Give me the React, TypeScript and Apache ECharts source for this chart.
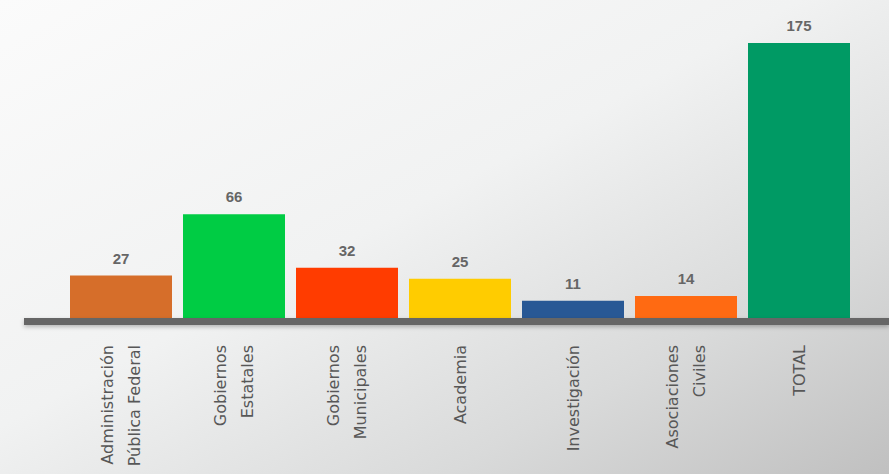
import React, { useEffect, useRef } from "react";
import * as echarts from "echarts";

const categories = [
  "Administración\nPública Federal",
  "Gobiernos\nEstatales",
  "Gobiernos\nMunicipales",
  "Academia",
  "Investigación",
  "Asociaciones\nCiviles",
  "TOTAL",
];
const values = [27, 66, 32, 25, 11, 14, 175];
const barColors = ["#d66e2a", "#00cc44", "#ff3c00", "#ffcc00", "#285895", "#ff6a12", "#009a64"];

export default function App() {
  const ref = useRef<HTMLDivElement>(null);
  useEffect(() => {
    document.body.style.margin = "0";
    const chart = echarts.init(ref.current!, null, { renderer: "svg" });
    chart.setOption({
      animation: false,
      backgroundColor: new echarts.graphic.LinearGradient(0, 0, 1, 1, [
        { offset: 0, color: "#fbfbfb" },
        { offset: 0.45, color: "#f1f2f2" },
        { offset: 0.75, color: "#d9dada" },
        { offset: 1, color: "#c0c0c0" },
      ]),
      grid: { left: 64.5, right: 33.5, top: 43, bottom: 156, containLabel: false },
      xAxis: {
        type: "category",
        data: categories,
        axisLine: { show: false },
        axisTick: { show: false },
        axisLabel: {
          rotate: 90,
          margin: 27,
          color: "#575757",
          fontSize: 16,
          fontFamily: "DejaVu Sans, sans-serif",
          lineHeight: 27,
          interval: 0,
        },
      },
      yAxis: {
        type: "value",
        min: 0,
        max: 175,
        show: false,
        splitLine: { show: false },
      },
      graphic: [
        {
          type: "rect",
          shape: { x: 24, y: 318, width: 865, height: 7 },
          style: { fill: "#666666", shadowBlur: 4, shadowColor: "rgba(0,0,0,0.25)", shadowOffsetY: 2 },
          z: 10,
        },
      ],
      series: [
        {
          type: "bar",
          barWidth: 102,
          data: values.map((v, i) => ({ value: v, itemStyle: { color: barColors[i] } })),
          label: {
            show: true,
            position: "top",
            distance: 10,
            color: "#666666",
            fontSize: 15,
            fontWeight: "bold",
            fontFamily: "Liberation Sans, Arial, sans-serif",
          },
        },
      ],
    });
    return () => chart.dispose();
  }, []);
  return <div ref={ref} style={{ width: 889, height: 474 }} />;
}
